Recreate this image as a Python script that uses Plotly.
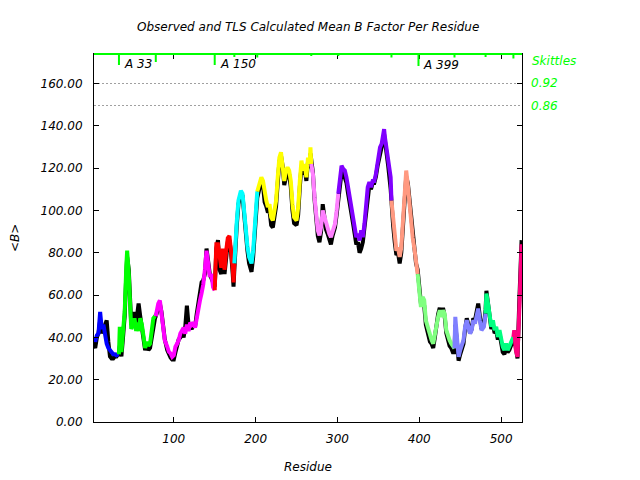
import plotly.graph_objects as go

# ---------------- data ----------------
residues = [
    3, 4, 6, 8, 10, 11, 12, 14, 16, 18,
    20, 22, 24, 26, 28, 30, 32, 33, 34, 35,
    36, 38, 40, 42, 43, 45, 46, 48, 50, 52,
    54, 55, 57, 59, 61, 63, 65, 67, 69, 71,
    73, 75, 77, 78, 81, 83, 85, 87, 89, 92,
    94, 96, 98, 100, 102, 104, 106, 108, 110, 112,
    114, 116, 118, 120, 122, 124, 126, 128, 130, 132,
    134, 136, 138, 140, 142, 144, 146, 148, 150, 151,
    152, 154, 156, 158, 160, 162, 164, 166, 168, 170,
    172, 173, 174, 175, 177, 179, 182, 184, 186, 188,
    190, 192, 195, 197, 199, 201, 202, 205, 207, 209,
    211, 213, 215, 217, 219, 221, 223, 225, 227, 229,
    231, 233, 235, 237, 239, 241, 243, 245, 247, 250,
    252, 254, 256, 258, 260, 262, 264, 266, 267, 268,
    270, 272, 274, 276, 278, 280, 282, 284, 286, 288,
    290, 292, 294, 297, 299, 301, 303, 305, 307, 309,
    311, 313, 315, 317, 319, 321, 323, 325, 327, 329,
    331, 333, 335, 337, 339, 341, 343, 345, 347, 349,
    352, 354, 356, 357, 358, 360, 362, 365, 366, 368,
    370, 372, 374, 376, 378, 380, 382, 384, 386, 388,
    390, 392, 394, 396, 398, 400, 402, 404, 406, 408,
    410, 413, 415, 417, 419, 421, 423, 425, 427, 429,
    431, 433, 435, 437, 439, 441, 443, 444, 446, 448,
    450, 452, 454, 456, 458, 460, 462, 464, 466, 468,
    470, 472, 474, 476, 479, 481, 482, 484, 486, 488,
    490, 492, 494, 496, 498, 500, 502, 504, 506, 508,
    510, 512, 515, 516, 518, 520, 522, 524, 525,
]

tls_b = [
    40, 38, 41, 42, 52, 48, 44, 46, 40, 37,
    35, 34, 33, 32, 32, 31.5, 32, 32, 45, 40,
    33, 43, 52, 74, 81, 70, 56, 44, 46, 49,
    43, 47, 43, 49, 46, 39, 35, 38, 36, 37,
    43, 49, 50, 50, 56, 57.5, 51, 43, 38.7, 35.6,
    33.2, 32.4, 30.8, 31.6, 35.6, 37, 38.7, 41.8, 43, 44.6,
    41.8, 46, 43, 47, 46, 47, 44.6, 49.7, 52.8, 57.5,
    61, 65, 72, 81, 75, 68.5, 70, 63.8, 62.3, 75,
    84, 84, 78, 73, 82, 72, 81, 87, 88, 82,
    73, 66, 75, 84, 95, 104.7, 109.4, 108, 98.5, 89,
    83, 78, 75, 81, 92, 103, 109, 112.6, 115.7, 114,
    108, 104.7, 101.6, 103, 96.8, 95.3, 100, 104.7, 115.7, 125,
    127.5, 120.4, 114, 118.9, 120.4, 118.9, 114, 103, 96.8, 95.3,
    101.6, 114, 123.6, 118.9, 122, 115.7, 125, 122, 129.9, 122,
    117.3, 106.3, 96.8, 90.6, 88.2, 92.1, 100, 96.8, 93.7, 90.6,
    89, 87.4, 90.6, 93.7, 100, 107.9, 114, 121.2, 119.7, 118.9,
    115.7, 111, 106.3, 101.6, 96.8, 92.1, 87.4, 89, 85.8, 90.6,
    87.4, 93.7, 101.6, 111, 113.4, 111, 114, 114, 117.3, 123.6,
    129.9, 131.5, 136.2, 138.5, 134.6, 129.9, 123.6, 115.7, 104.7, 95.3,
    87.4, 81, 82.5, 78, 82.5, 95.3, 112.6, 118.9, 112, 103,
    94, 87, 82, 76, 70, 59.1, 54.4, 59.1, 57.6, 48.1,
    45, 40.2, 38.7, 37.1, 41.8, 45, 49.7, 52.8, 49.7, 52.8,
    51.3, 43.4, 40.2, 38.7, 37.1, 35.5, 34.8, 49.7, 40.2, 30.8,
    34, 37.1, 38.7, 45, 48.1, 45, 41.8, 43.4, 48.1, 46.5,
    51.3, 53.6, 48.1, 43.4, 45, 51.3, 60.7, 56, 49.7, 45,
    48.1, 43.4, 45, 40.2, 43.4, 38.7, 35.5, 34, 37.1, 34,
    35.5, 37.1, 40.2, 43.4, 34, 30.8, 51.3, 74.9, 84,
]

observed_b = [
    36, 35, 40, 42, 48, 46, 42, 44, 46, 48,
    38, 31, 30, 30, 31, 31, 32, 33, 36, 34,
    31, 40, 50, 70, 78, 72, 58, 46, 48, 52,
    47, 50, 56, 50, 44, 37, 34, 36, 34, 35,
    40, 47, 49, 50, 54, 56, 52, 45, 39, 34,
    31.5, 30.5, 29.5, 29.5, 33, 36, 39, 40, 42, 40,
    45, 55, 46, 45, 44, 46, 45, 51, 56, 60,
    66, 67, 70, 82, 76, 70, 68, 66, 64, 72,
    82, 86, 72, 70, 78, 70, 79, 85, 86, 80,
    70, 64, 72, 82, 93, 103, 108, 107, 97, 87,
    81, 75, 71, 78, 90, 101, 106, 111, 114, 112,
    104, 102, 99, 100, 93, 92, 97, 102, 113, 123,
    126, 121, 112, 116, 119, 117, 111, 100, 94, 93,
    98, 111, 121, 117, 120, 114, 123, 120, 127, 124,
    118, 105, 95, 88, 85, 90, 103, 95, 91, 89,
    86, 84, 88, 92, 98, 106, 111, 118, 118, 116,
    113, 108, 104, 99, 94, 89, 84, 85, 80, 82,
    85, 92, 99, 108, 112, 110, 113, 113, 116, 121,
    128, 130, 134, 136, 133, 128, 121, 110, 102, 93,
    85, 79, 80, 75, 80, 92, 110, 116, 113, 105,
    96, 89, 80, 75, 72, 62, 56, 57, 55, 46,
    42, 38, 37, 35, 40, 46, 51, 54, 50, 54,
    50, 42, 38, 36, 35, 33, 33, 46, 38, 29,
    32, 35, 37, 44, 49, 46, 42, 44, 49, 48,
    53, 56, 50, 44, 46, 53, 62, 57, 49, 44,
    46, 42, 43, 39, 42, 37, 33, 32, 35, 33,
    34, 36, 38, 40, 33, 30, 55, 80, 86,
]

# TLS segment boundaries (residue numbers) and their colours
segment_bounds = [3, 33, 78, 150, 174, 202, 268, 301, 366, 398, 443, 481, 515, 525]
segment_colors = ["#0000ff", "#00ff00", "#ff00ff", "#ff0000", "#00ffff", "#ffff00",
                  "#ff80ff", "#8000ff", "#ff9980", "#80ff80", "#8080ff", "#00ff80",
                  "#ff0080"]

# Skittles: tick marks along the top border (residue, length in px)
skittle_res = [33, 78, 150, 174, 202, 268, 301, 366, 399, 443, 481, 515]
skittle_len = [11, 8, 11, 3, 3.5, 2, 2, 3.5, 12, 3.5, 3, 4.5]
skittle_labels = {33: "A 33", 150: "A 150", 399: "A 399"}
skittle_levels = [0.92, 0.86]

y_ticks = [0, 20, 40, 60, 80, 100, 120, 140, 160]
x_ticks = [100, 200, 300, 400, 500]

# ---------------- figure ----------------
FONT = "DejaVu Sans"
PLOT_H = 368
PLOT_W = 428

fig = go.Figure()

fig.add_trace(go.Scatter(x=residues, y=observed_b, mode="lines",
                         line=dict(color="black", width=4), showlegend=False,
                         hoverinfo="skip"))

for i, col in enumerate(segment_colors):
    lo, hi = segment_bounds[i], segment_bounds[i + 1]
    xs = [r for r in residues if lo <= r <= hi]
    ys = [v for r, v in zip(residues, tls_b) if lo <= r <= hi]
    fig.add_trace(go.Scatter(x=xs, y=ys, mode="lines",
                             line=dict(color=col, width=4), showlegend=False))

# dummy trace so the secondary (skittles) axis is drawn
fig.add_trace(go.Scatter(x=[None], y=[None], yaxis="y2", showlegend=False))

shapes = []
for r, L in zip(skittle_res, skittle_len):
    shapes.append(dict(type="line", xref="x", yref="paper", x0=r, x1=r,
                       y0=1, y1=1 - L / PLOT_H, line=dict(color="#00ff00", width=2)))
shapes.append(dict(type="line", xref="paper", yref="paper", x0=0, x1=1, y0=1, y1=1,
                   line=dict(color="#00ff00", width=2)))

annotations = []
for r, txt in skittle_labels.items():
    L = skittle_len[skittle_res.index(r)]
    annotations.append(dict(x=r, y=1 - (L - 1) / PLOT_H, xref="x", yref="paper",
                            text=txt, showarrow=False, xanchor="left", yanchor="middle",
                            xshift=3, font=dict(family=FONT, size=12, color="black",
                                                style="italic")))
annotations.append(dict(x=1, y=1 - 7 / PLOT_H, xref="paper", yref="paper", text="Skittles",
                        showarrow=False, xanchor="left", yanchor="middle", xshift=8,
                        font=dict(family=FONT, size=12, color="#00ff00", style="italic")))
annotations.append(dict(x=0.5, y=1 + 27 / PLOT_H, xref="paper", yref="paper",
                        text="Observed and TLS Calculated Mean B Factor Per Residue",
                        showarrow=False, xanchor="center", yanchor="middle",
                        font=dict(family=FONT, size=12, color="black", style="italic")))
annotations.append(dict(x=0.5, y=-45 / PLOT_H, xref="paper", yref="paper", text="Residue",
                        showarrow=False, xanchor="center", yanchor="middle",
                        font=dict(family=FONT, size=12, color="black", style="italic")))
annotations.append(dict(x=-79 / PLOT_W, y=0.5, xref="paper", yref="paper", text="&lt;B&gt;",
                        showarrow=False, xanchor="center", yanchor="middle", textangle=-90,
                        font=dict(family=FONT, size=12, color="black", style="italic")))

# the page body adds an 8px offset, so the figure is shifted up/left by 8px
fig.update_layout(
    width=632, height=472,
    margin=dict(l=86, r=118, t=46, b=58, pad=0),
    paper_bgcolor="white", plot_bgcolor="white",
    font=dict(family=FONT, size=12, color="black", style="italic"),
    showlegend=False,
    xaxis=dict(range=[2.5, 525.5], tickvals=x_ticks, ticks="inside", ticklen=5,
               tickcolor="black", showline=True, linecolor="black", linewidth=1,
               mirror="ticks", showgrid=False, zeroline=False,
               tickfont=dict(family=FONT, size=12, color="black", style="italic"),
               ticklabelstandoff=6),
    yaxis=dict(range=[0, 174], tickvals=y_ticks, tickformat=".2f", ticks="inside",
               ticklen=5, tickcolor="black", showline=True, linecolor="black",
               linewidth=1, mirror="ticks", showgrid=False, zeroline=False,
               tickfont=dict(family=FONT, size=12, color="black", style="italic"),
               ticklabelstandoff=8),
    yaxis2=dict(overlaying="y", side="right", range=[0.025, 0.997],
                tickvals=skittle_levels, ticktext=[f"{v:.2f}" for v in skittle_levels],
                ticks="", showline=False, zeroline=False, showgrid=True,
                gridcolor="#a0a0a0", gridwidth=1, griddash="2px,2px",
                tickfont=dict(family=FONT, size=12, color="#00ff00", style="italic"),
                ticklabelstandoff=8),
    shapes=shapes,
    annotations=annotations,
)

fig.write_html("out.html")
